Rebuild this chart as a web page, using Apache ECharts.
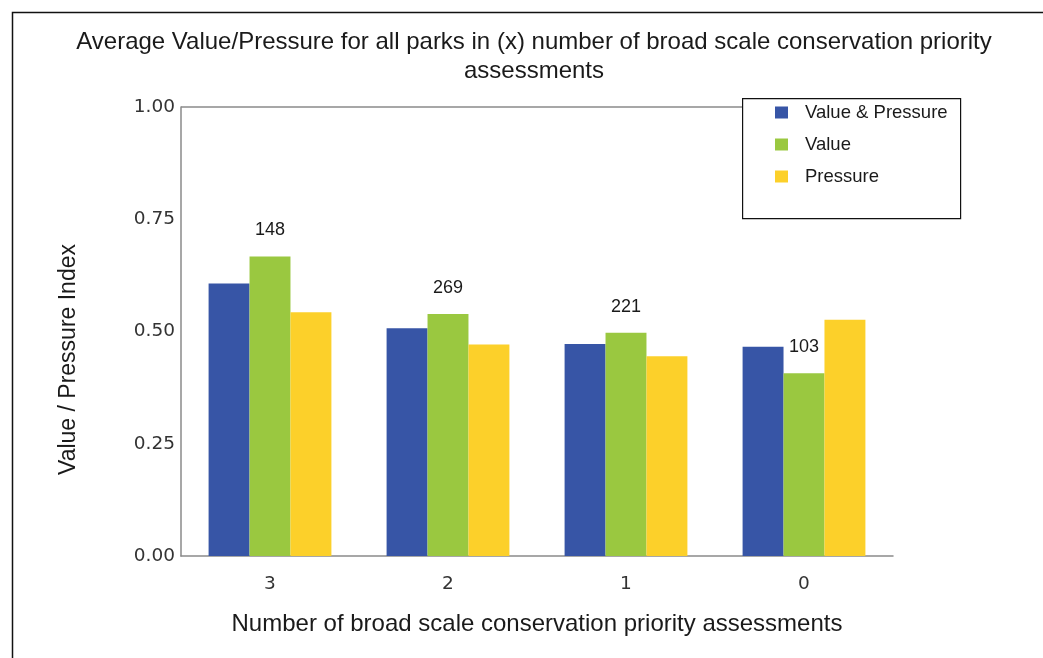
<!DOCTYPE html>
<html>
<head>
<meta charset="utf-8">
<script src="https://cdn.jsdelivr.net/npm/echarts@6/dist/echarts.min.js"></script>
<style>
  html, body { margin: 0; padding: 0; background: #fff; }
  #chart { width: 1043px; height: 658px; }
</style>
</head>
<body>
<div id="chart"></div>
<script>
// Number of broad scale conservation priority assessments
const categories = ['3', '2', '1', '0'];
// Average index per group
const valuePressure = [0.607, 0.507, 0.472, 0.466];
const valueOnly = [0.667, 0.539, 0.497, 0.407];
const pressureOnly = [0.543, 0.471, 0.445, 0.526];
// Number of parks in each group
const parkCounts = [148, 269, 221, 103];
const yTicks = [0, 0.25, 0.5, 0.75, 1];

const chart = echarts.init(document.getElementById('chart'));
const sans = 'Liberation Sans, Arial, sans-serif';
const tickFont = 'DejaVu Sans, Verdana, sans-serif';

chart.setOption({
  animation: false,
  backgroundColor: '#fff',
  title: {
    text: 'Average Value/Pressure for all parks in (x) number of broad scale conservation priority\nassessments',
    left: 529,
    top: 23,
    textAlign: 'center',
    textStyle: { fontFamily: sans, fontSize: 24, fontWeight: 'normal', color: '#1a1a1a', lineHeight: 29 }
  },
  graphic: [
    {
      type: 'rect', left: 10, top: 10, z: 0,
      shape: { width: 1100, height: 700 },
      style: { fill: 'none', stroke: '#111', lineWidth: 1.5 }
    },
    {
      type: 'rect', left: 742, top: 98, z: 10,
      shape: { width: 218, height: 120 },
      style: { fill: '#fff', stroke: '#111', lineWidth: 1.2 }
    }
  ],
  legend: {
    orient: 'vertical',
    left: 770,
    top: 98,
    z: 20,
    icon: 'rect',
    itemWidth: 13,
    itemHeight: 12,
    itemGap: 13,
    textStyle: { fontFamily: sans, fontSize: 18.5, color: '#1a1a1a', lineHeight: 19, padding: [0, 0, 0, 12] },
    data: ['Value & Pressure', 'Value', 'Pressure']
  },
  grid: { left: 181, right: 150, top: 107, bottom: 102 },
  xAxis: {
    type: 'category',
    data: categories,
    name: 'Number of broad scale conservation priority assessments',
    nameLocation: 'middle',
    nameGap: 56,
    nameTextStyle: { fontFamily: sans, fontSize: 24, color: '#1a1a1a' },
    axisLine: { lineStyle: { color: '#8a8a8a', width: 1.5 } },
    axisTick: { show: false },
    axisLabel: { margin: 19, fontFamily: tickFont, fontSize: 18.5, color: '#333' }
  },
  yAxis: {
    type: 'value',
    min: yTicks[0],
    max: yTicks[yTicks.length - 1],
    interval: 0.25,
    name: 'Value / Pressure Index',
    nameLocation: 'middle',
    nameRotate: 90,
    nameGap: 101,
    nameTextStyle: { fontFamily: sans, fontSize: 23, color: '#1a1a1a', padding: [0, 56, 0, 0] },
    axisLine: { show: true, lineStyle: { color: '#8a8a8a', width: 1.5 } },
    axisTick: { show: false },
    axisLabel: {
      margin: 6,
      fontFamily: tickFont,
      fontSize: 18.5,
      color: '#333',
      formatter: v => v.toFixed(2)
    },
    splitLine: {
      show: true,
      lineStyle: { color: ['transparent', 'transparent', 'transparent', 'transparent', '#8a8a8a'], width: 1.5 }
    }
  },
  series: [
    {
      name: 'Value & Pressure', type: 'bar', data: valuePressure,
      barGap: '0%', barCategoryGap: '31%',
      itemStyle: { color: '#3755a6' }
    },
    {
      name: 'Value', type: 'bar', data: valueOnly,
      itemStyle: { color: '#9ac840' },
      label: {
        show: true,
        position: 'top',
        distance: 16,
        formatter: p => String(parkCounts[p.dataIndex]),
        fontFamily: sans,
        fontSize: 18,
        color: '#1a1a1a',
        backgroundColor: '#fff',
        padding: [1, 3]
      }
    },
    {
      name: 'Pressure', type: 'bar', data: pressureOnly,
      itemStyle: { color: '#fcd02a' }
    }
  ]
});
</script>
</body>
</html>
